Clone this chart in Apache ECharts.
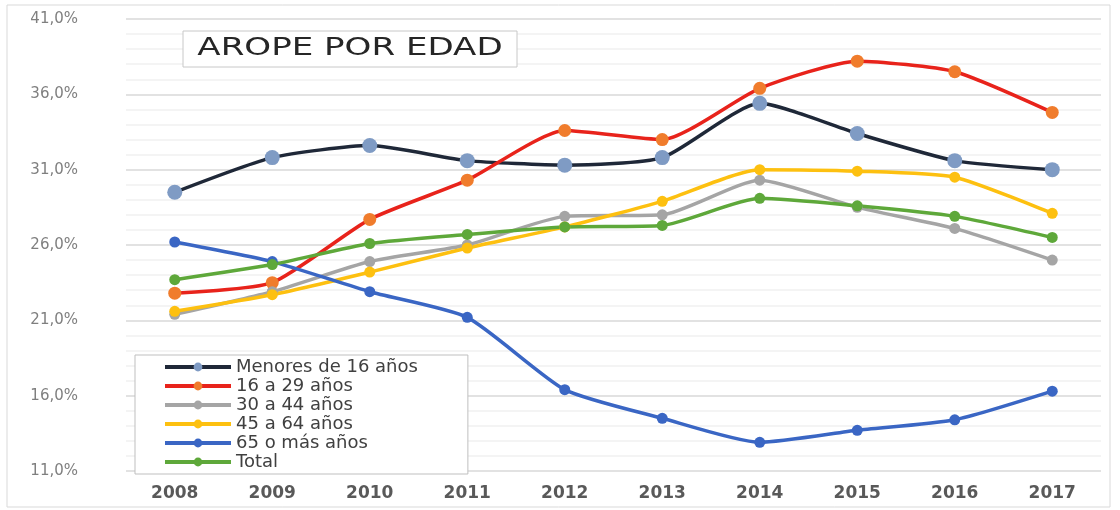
<!DOCTYPE html>
<html>
<head>
<meta charset="utf-8">
<script src="https://cdn.jsdelivr.net/npm/echarts@6/dist/echarts.min.js"></script>
<style>
  html, body { margin: 0; padding: 0; background: #fff; }
  #chart { width: 1120px; height: 510px; }
</style>
</head>
<body>
<div id="chart"></div>
<script>
// datos (% AROPE)
const years = ['2008', '2009', '2010', '2011', '2012', '2013', '2014', '2015', '2016', '2017']
const menores16 = [29.5, 31.8, 32.6, 31.6, 31.3, 31.8, 35.4, 33.4, 31.6, 31.0]
const de16a29 = [22.8, 23.5, 27.7, 30.3, 33.6, 33.0, 36.4, 38.2, 37.5, 34.8]
const de30a44 = [21.4, 22.9, 24.9, 26.0, 27.9, 28.0, 30.3, 28.5, 27.1, 25.0]
const de45a64 = [21.6, 22.7, 24.2, 25.8, 27.2, 28.9, 31.0, 30.9, 30.5, 28.1]
const mas65 = [26.2, 24.9, 22.9, 21.2, 16.4, 14.5, 12.9, 13.7, 14.4, 16.3]
const total = [23.7, 24.7, 26.1, 26.7, 27.2, 27.3, 29.1, 28.6, 27.9, 26.5]
const seriesNames = ['Menores de 16 años', '16 a 29 años', '30 a 44 años', '45 a 64 años', '65 o más años', 'Total']

const chart = echarts.init(document.getElementById('chart'))

const mkSeries = (name, data, lineColor, dotColor, size) => ({
  name: name,
  type: 'line',
  data: data,
  smooth: 0.2,
  symbol: 'circle',
  symbolSize: size,
  lineStyle: { color: lineColor, width: 3.5 },
  itemStyle: { color: dotColor }
})

const yMin = 11
const yMax = 41

chart.setOption({
  animation: false,
  textStyle: { fontFamily: 'DejaVu Sans' },
  graphic: [
    {
      type: 'rect',
      shape: { x: 7, y: 5, width: 1103, height: 502 },
      style: { fill: 'none', stroke: '#d9d9d9', lineWidth: 1 },
      silent: true
    },
    {
      type: 'rect',
      shape: { x: 183, y: 31, width: 334, height: 36 },
      style: { fill: '#fff', stroke: '#c8c8c8', lineWidth: 1 },
      z: 10
    },
    {
      type: 'text',
      x: 350, y: 49,
      scaleX: 1.42,
      style: {
        text: 'AROPE POR EDAD',
        fill: '#262626',
        font: '24px DejaVu Sans',
        align: 'center',
        verticalAlign: 'middle'
      },
      z: 11
    }
  ],
  legend: {
    data: seriesNames,
    orient: 'vertical',
    left: 135,
    top: 355,
    itemWidth: 66,
    itemHeight: 11,
    itemGap: 1,
    padding: [3, 50, 3, 28],
    backgroundColor: '#fff',
    borderColor: '#bfbfbf',
    borderWidth: 1,
    borderRadius: 0,
    lineStyle: { width: 4 },
    textStyle: { fontSize: 18, color: '#404040', fontFamily: 'DejaVu Sans' }
  },
  grid: { left: 126, right: 19, top: 19, bottom: 39 },
  xAxis: {
    type: 'category',
    data: years,
    boundaryGap: true,
    axisLine: { show: false },
    axisTick: { show: false },
    axisLabel: { fontSize: 17, fontWeight: 'bold', color: '#595959', margin: 14 }
  },
  yAxis: {
    type: 'value',
    min: yMin,
    max: yMax,
    interval: 1,
    axisLine: { show: false },
    axisTick: { show: false },
    axisLabel: {
      fontSize: 15,
      color: '#7f7f7f',
      margin: 48,
      formatter: (v) => {
        const r = Math.round(v)
        return (r - yMin) % 5 === 0 ? r.toFixed(1).replace('.', ',') + '%' : ''
      }
    },
    splitLine: {
      lineStyle: { color: ['#d9d9d9', '#f0f0f0', '#f0f0f0', '#f0f0f0', '#f0f0f0'], width: 1.5 }
    }
  },
  series: [
    mkSeries(seriesNames[0], menores16, '#1f2838', '#7f9bc4', 15),
    mkSeries(seriesNames[1], de16a29, '#e8231b', '#f07c2c', 13),
    mkSeries(seriesNames[2], de30a44, '#a5a5a5', '#a5a5a5', 11),
    mkSeries(seriesNames[3], de45a64, '#fdc010', '#fdc010', 11),
    mkSeries(seriesNames[4], mas65, '#3a66c4', '#3a66c4', 11),
    mkSeries(seriesNames[5], total, '#5ea83a', '#5ea83a', 11)
  ]
})
</script>
</body>
</html>
